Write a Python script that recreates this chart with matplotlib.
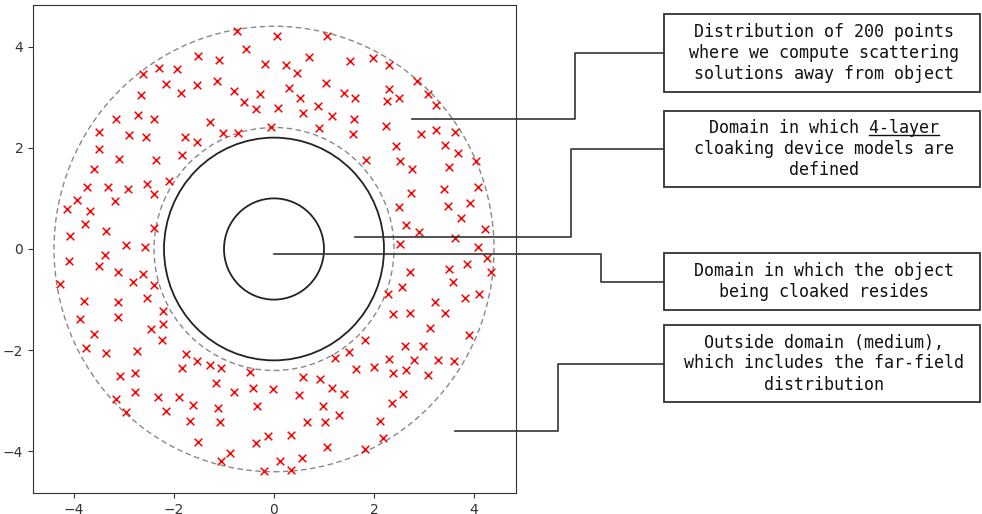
import matplotlib
matplotlib.use("Agg")
import matplotlib.pyplot as plt
from matplotlib.patches import Circle, Rectangle
from matplotlib.lines import Line2D
import numpy as np

# ---- data: 200 sample points (x, y) ----
pts_x = [
    -2.30, -1.95, -2.62, -2.16, -1.87, -2.67, -3.17, -2.73, -2.41, -3.51, -2.90, -2.57, -1.79, -3.51, -3.10, -2.36, -1.84, -3.60, -1.53, -1.55, -1.54,
    -0.75, 0.06, 1.05, -0.57, -1.10, -0.19, 0.23, 0.69, 1.51, 0.45, -1.14, -0.81, -0.29, 0.30, 0.51, 1.03, 1.40, 1.62, -0.61, -0.37, 0.08, 0.58, 0.87, 1.15, 1.59, -1.29, -1.02, -0.72, -0.06, 0.89, 1.57,
    1.97, 2.29, 2.85, 2.29, 3.07, 3.23, 2.25, 2.50, 2.23, 2.93, 3.23, 3.62, 2.43, 3.42, 3.67, 1.84, 2.52, 2.76, 3.50, 4.03,
    -3.75, -3.33, -2.93, -2.55, -2.40, -2.11, -3.95, -4.14, -3.69, -3.19, -3.79, -4.08, -3.37, -2.41, -2.96, -2.58, -4.10, -3.38, -3.50, -3.12, -2.63, -2.83, -2.41, -4.29, -3.81, -3.13, -2.54, -2.22, -3.88, -3.13, -2.22, -2.47, -3.60,
    2.74, 3.40, 4.07, 2.50, 3.47, 3.91, 3.74, 2.63, 2.90, 4.22, 3.61, 2.52, 4.08, 4.27, 3.86, 3.50, 2.71, 4.33, 3.57, 2.55, 2.28, 4.10, 3.81, 3.21, 2.37, 2.71, 3.41, 3.12, 3.89,
    -2.24, -3.77, -3.36, -2.75, -1.76, -1.55, -1.85, -3.09, -2.79, -2.78, -3.17, -2.96, -2.33, -1.91, -1.62, -2.17, -1.68, -1.52,
    -1.29, -1.06, -0.48, 1.21, 1.50, -1.17, -0.81, -0.43, -0.03, 0.57, 0.92, 1.16, 1.40, 0.49, -1.12, -0.35, 0.97, 1.29, -1.09, 0.66, 1.02, -0.37, -0.13, 0.33, 1.05, -0.89, -1.06, 0.11, 0.56, -0.20, 0.33,
    1.81, 2.61, 2.97, 2.30, 2.79, 3.27, 3.59, 1.64, 1.99, 2.37, 2.64, 3.07, 2.57, 2.35, 2.12, 2.17, 1.82,
]
pts_y = [
    3.58, 3.55, 3.45, 3.26, 3.09, 3.04, 2.57, 2.65, 2.56, 2.31, 2.25, 2.21, 2.22, 1.98, 1.78, 1.75, 1.86, 1.59, 3.82, 3.24, 2.11,
    4.31, 4.21, 4.21, 3.95, 3.74, 3.66, 3.63, 3.80, 3.72, 3.48, 3.31, 3.12, 3.06, 3.18, 2.98, 3.28, 3.09, 2.99, 2.90, 2.76, 2.78, 2.68, 2.82, 2.63, 2.56, 2.50, 2.29, 2.30, 2.41, 2.39, 2.28,
    3.77, 3.63, 3.31, 3.17, 3.06, 2.85, 2.93, 2.98, 2.42, 2.28, 2.36, 2.31, 2.04, 2.05, 1.90, 1.76, 1.74, 1.58, 1.62, 1.73,
    1.23, 1.23, 1.19, 1.28, 1.08, 1.34, 0.97, 0.79, 0.76, 0.95, 0.49, 0.26, 0.36, 0.41, 0.07, 0.03, -0.23, -0.12, -0.34, -0.45, -0.49, -0.66, -0.72, -0.69, -1.03, -1.05, -0.97, -1.23, -1.39, -1.35, -1.48, -1.58, -1.67,
    1.11, 1.19, 1.22, 0.82, 0.84, 0.91, 0.61, 0.47, 0.33, 0.40, 0.22, 0.10, 0.03, -0.17, -0.30, -0.40, -0.45, -0.45, -0.66, -0.76, -0.89, -0.89, -0.97, -1.04, -1.29, -1.26, -1.26, -1.56, -1.70,
    -1.80, -1.96, -2.06, -2.02, -2.08, -2.21, -2.36, -2.51, -2.44, -2.83, -2.96, -3.22, -2.92, -2.92, -3.08, -3.20, -3.40, -3.81,
    -2.29, -2.35, -2.42, -2.15, -2.04, -2.64, -2.83, -2.75, -2.77, -2.52, -2.57, -2.75, -2.87, -2.89, -3.14, -3.10, -3.11, -3.28, -3.42, -3.41, -3.42, -3.83, -3.69, -3.67, -3.92, -4.03, -4.19, -4.18, -4.12, -4.39, -4.36,
    -1.80, -1.92, -1.91, -2.17, -2.19, -2.19, -2.21, -2.37, -2.33, -2.44, -2.40, -2.49, -2.86, -3.05, -3.40, -3.73, -3.95,
]

# circle radii
object_radius = 1.0
cloak_radius = 2.2
inner_sample_radius = 2.4
outer_sample_radius = 4.4

# annotation texts and anchor points (data units)
box_texts = [
    ["Distribution of 200 points", "where we compute scattering", "solutions away from object"],
    ["Domain in which 4-layer", "cloaking device models are", "defined"],
    ["Domain in which the object", "being cloaked resides"],
    ["Outside domain (medium),", "which includes the far-field", "distribution"],
]
anchor_x = [2.76, 1.62, 0.0, 3.62]
anchor_y = [2.57, 0.24, -0.10, -3.60]

W, H = 982, 514
fig = plt.figure(figsize=(W / 100, H / 100), dpi=100)
ax = fig.add_axes([33 / W, 21 / H, 483 / W, 488 / H])
ax.set_xlim(-4.82, 4.84)
ax.set_ylim(-4.82, 4.82)
ax.set_xticks([-4, -2, 0, 2, 4])
ax.set_yticks([-4, -2, 0, 2, 4])
ax.tick_params(labelsize=10, colors="#333333")
for s in ax.spines.values():
    s.set_color("#333333")

for r in (object_radius, cloak_radius):
    ax.add_patch(Circle((0, 0), r, fill=False, ec="#222222", lw=1.3))
for r in (inner_sample_radius, outer_sample_radius):
    ax.add_patch(Circle((0, 0), r, fill=False, ec="#888888", lw=1.0, ls=(0, (4, 2.5))))

ax.scatter(pts_x, pts_y, marker="x", color="red", s=30, linewidths=1.1, zorder=3)

# boxes (pixel coordinates, top-origin)
box_left, box_right = 664, 980
box_tops = [14, 111, 253, 325]
box_bottoms = [92, 187, 310, 402]
elbow_x = [575, 571, 601, 558]
line_step = 21

def fx(px):
    return px / W

def fy(py):
    return 1 - py / H

inv = fig.transFigure.inverted()
renderer = fig.canvas.get_renderer()
for i, lines in enumerate(box_texts):
    top, bot = box_tops[i], box_bottoms[i]
    fig.add_artist(Rectangle((fx(box_left), fy(bot)), fx(box_right) - fx(box_left), fy(top) - fy(bot),
                             transform=fig.transFigure, fill=False, ec="#333333", lw=1.3))
    cy = (top + bot) / 2
    cx = (box_left + box_right) / 2 + 2
    n = len(lines)
    for j, ln in enumerate(lines):
        ly = cy + (j - (n - 1) / 2) * line_step
        t = fig.text(fx(cx), fy(ly), ln, ha="center", va="center", fontsize=12,
                     family="DejaVu Sans Mono", color="#111111")
        if i == 1 and j == 0:
            bb = t.get_window_extent(renderer)
            cw = bb.width / len(ln)
            x1 = bb.x1
            x0 = x1 - 7 * cw
            uy = fy(ly + 6.5)
            fig.add_artist(Line2D([x0 / W, x1 / W], [uy, uy], transform=fig.transFigure,
                                  color="#111111", lw=1.0))
    # connector
    disp = ax.transData.transform((anchor_x[i], anchor_y[i]))
    sx, sy = inv.transform(disp)
    cyf = fy(cy)
    fig.add_artist(Line2D([sx, fx(elbow_x[i]), fx(elbow_x[i]), fx(box_left)],
                          [sy, sy, cyf, cyf], transform=fig.transFigure,
                          color="#333333", lw=1.2))

fig.savefig("out.png", dpi=100)
